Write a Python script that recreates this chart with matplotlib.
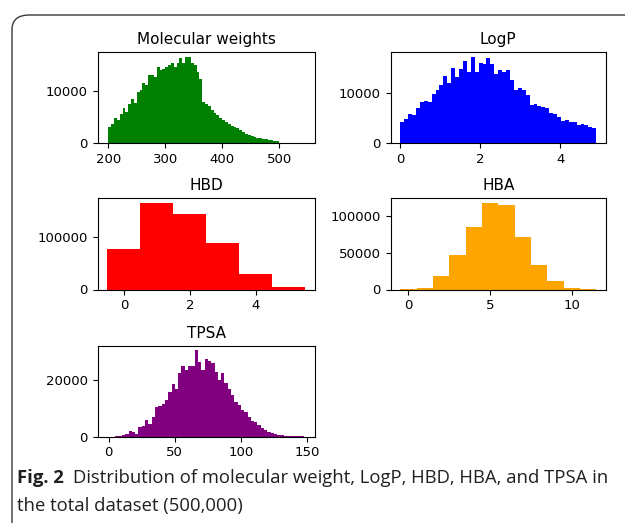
import numpy as np
import matplotlib
matplotlib.use("Agg")
import matplotlib.pyplot as plt
from matplotlib.patches import FancyBboxPatch

# bin counts
mw_edges = np.arange(200, 505, 5)
mw_counts = [3100, 3600, 4900, 4400, 5550, 6700, 6000, 7600, 8400, 7700,
             9900, 10300, 11500, 11100, 13100, 13100, 12800, 14600, 14100, 14300,
             14600, 15000, 15500, 14700, 15500, 16300, 15500, 16650, 16500, 15500,
             15000, 13700, 12300, 7900, 7600, 7100, 6450, 5700, 5350, 4900,
             4500, 4050, 3750, 3200, 3100, 2800, 2450, 2200, 1800, 1500,
             1300, 1150, 1050, 900, 800, 700, 650, 520, 400, 330]

logp_edges = np.linspace(0, 4.9, 51)
logp_counts = [4300, 4900, 5900, 5600, 7000, 8200, 8450, 8300, 9900, 10600,
               11600, 13500, 12000, 15000, 13300, 14800, 16500, 14300, 17300, 14300,
               16000, 15900, 17100, 15900, 13800, 14600, 14300, 14700, 12700, 10700,
               11000, 10600, 9600, 7700, 7800, 7500, 7200, 7000, 6000, 5900,
               5300, 4500, 4600, 4300, 4200, 3700, 3800, 3700, 3300, 3000]

hbd_values = [0, 1, 2, 3, 4, 5]
hbd_counts = [76400, 164000, 142000, 87300, 29900, 4500]

hba_values = [0, 1, 2, 3, 4, 5, 6, 7, 8, 9, 10, 11]
hba_counts = [300, 2300, 18000, 46800, 85000, 117500, 114500, 71000, 33800, 11300, 2500, 400]

tpsa_edges = np.linspace(0, 150, 61)
tpsa_counts = [0, 0, 100, 250, 500, 850, 1900, 1500, 950, 3600,
               3800, 6000, 4500, 7100, 10500, 11000, 11400, 13000, 15800, 18500,
               16700, 22400, 24800, 23600, 24800, 25000, 30500, 26200, 23600, 27400,
               26900, 26000, 23000, 20000, 22600, 18800, 16700, 14600, 12300, 11100,
               9300, 8700, 7100, 5700, 5100, 4300, 3100, 2400, 1800, 1400,
               1100, 700, 500, 400, 300, 250, 200, 120, 80, 30]

W, H = 625, 523
fig = plt.figure(figsize=(W / 100, H / 100), dpi=100)


def box(x0, x1, ytop, ybot):
    return [x0 / W, 1 - ybot / H, (x1 - x0) / W, (ybot - ytop) / H]


fs = 9.5
title_fs = 11

# rounded frame around the figure panel (runs off the right and bottom)
frame = FancyBboxPatch((12 / W, -0.2), 1.2, 1 - 15 / H + 0.2,
                       boxstyle="round,pad=0,rounding_size=0.028",
                       transform=fig.transFigure, fill=False,
                       edgecolor="#3a3a3a", linewidth=1.0, clip_on=False)
fig.patches.append(frame)

ax1 = fig.add_axes(box(97.5, 315, 52.3, 143))
ax1.hist((mw_edges[:-1] + mw_edges[1:]) / 2, bins=mw_edges, weights=mw_counts,
         color="green")
ax1.set_xlim(181, 563)
ax1.set_xticks([200, 300, 400, 500])
ax1.set_yticks([0, 10000])
ax1.set_title("Molecular weights", fontsize=title_fs)

ax2 = fig.add_axes(box(390.5, 606, 52.3, 143))
ax2.hist((logp_edges[:-1] + logp_edges[1:]) / 2, bins=logp_edges, weights=logp_counts,
         color="blue")
ax2.set_xticks([0, 2, 4])
ax2.set_yticks([0, 10000])
ax2.set_title("LogP", fontsize=title_fs)

ax3 = fig.add_axes(box(97.5, 315, 198.3, 289.5))
ax3.hist(hbd_values, bins=np.arange(-0.5, 6.5, 1), weights=hbd_counts, color="red")
ax3.set_xticks([0, 2, 4])
ax3.set_yticks([0, 100000])
ax3.set_title("HBD", fontsize=title_fs)

ax4 = fig.add_axes(box(390.5, 606, 198.3, 289.5))
ax4.hist(hba_values, bins=np.arange(-0.5, 12.5, 1), weights=hba_counts, color="orange")
ax4.set_xticks([0, 5, 10])
ax4.set_yticks([0, 50000, 100000])
ax4.set_title("HBA", fontsize=title_fs)

ax5 = fig.add_axes(box(97.5, 315, 346, 436.7))
ax5.hist((tpsa_edges[:-1] + tpsa_edges[1:]) / 2, bins=tpsa_edges, weights=tpsa_counts,
         color="purple")
ax5.set_xlim(-8.5, 156)
ax5.set_xticks([0, 50, 100, 150])
ax5.set_yticks([0, 20000])
ax5.set_title("TPSA", fontsize=title_fs)

for ax in [ax1, ax2, ax3, ax4, ax5]:
    ax.tick_params(labelsize=fs)

# caption
cap_font = "Open Sans"
cap_size = 13.3
cap_color = "#231f20"
t1 = fig.text(17 / W, 1 - 478 / H, "Fig. 2", fontsize=cap_size, fontweight="bold",
              family=cap_font, color=cap_color, va="center")
fig.canvas.draw()
bb = t1.get_window_extent(renderer=fig.canvas.get_renderer())
fig.text((bb.x1 + 9) / W, 1 - 478 / H,
         "Distribution of molecular weight, LogP, HBD, HBA, and TPSA in",
         fontsize=cap_size, family=cap_font, color=cap_color, va="center")
fig.text(17 / W, 1 - 506 / H, "the total dataset (500,000)", fontsize=cap_size,
         family=cap_font, color=cap_color, va="center")

fig.savefig("out.png", dpi=100)
